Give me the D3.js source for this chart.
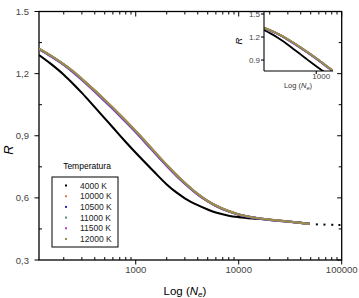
<!DOCTYPE html>
<html>
<head>
<meta charset="utf-8">
<title>R vs Log(Ne)</title>
<style>
  body { margin: 0; background: #fff; }
  text { font-family: Arial, "Liberation Sans", sans-serif; }
</style>
</head>
<body>
<script src="https://d3js.org/d3.v7.min.js"></script>
<script>
// electron density grid (shared by all series)
var ne = [115, 150, 200, 250, 300, 400, 500, 600, 700, 800, 1000, 1200, 1500, 2000, 2500,
          3000, 4000, 5000, 6000, 8000, 10000, 15000, 20000, 30000, 40000, 48800];

var r4000  = [1.290, 1.247, 1.195, 1.148, 1.107, 1.038, 0.984, 0.940, 0.902, 0.870, 0.818, 0.777, 0.727, 0.665, 0.625,
              0.598, 0.565, 0.544, 0.529, 0.514, 0.507, 0.499, 0.494, 0.486, 0.480, 0.475];
var r10000 = [1.320, 1.286, 1.245, 1.208, 1.174, 1.118, 1.072, 1.034, 1.001, 0.972, 0.922, 0.879, 0.826, 0.758, 0.709,
              0.672, 0.619, 0.585, 0.563, 0.536, 0.520, 0.503, 0.495, 0.486, 0.479, 0.474];
var r10500 = [1.319, 1.285, 1.244, 1.206, 1.172, 1.116, 1.070, 1.032, 0.999, 0.970, 0.920, 0.877, 0.824, 0.756, 0.707,
              0.670, 0.617, 0.584, 0.562, 0.535, 0.519, 0.502, 0.494, 0.486, 0.479, 0.474];
var r11000 = [1.319, 1.285, 1.244, 1.207, 1.173, 1.117, 1.071, 1.033, 1.000, 0.971, 0.921, 0.878, 0.825, 0.757, 0.708,
              0.671, 0.618, 0.584, 0.562, 0.535, 0.520, 0.503, 0.494, 0.486, 0.479, 0.474];
var r11500 = [1.318, 1.284, 1.242, 1.204, 1.170, 1.113, 1.067, 1.029, 0.996, 0.967, 0.917, 0.874, 0.821, 0.754, 0.705,
              0.668, 0.616, 0.583, 0.561, 0.534, 0.519, 0.502, 0.494, 0.485, 0.479, 0.474];
var r12000 = [1.320, 1.287, 1.245, 1.209, 1.175, 1.119, 1.074, 1.036, 1.003, 0.974, 0.923, 0.881, 0.827, 0.760, 0.710,
              0.673, 0.619, 0.585, 0.563, 0.536, 0.520, 0.503, 0.495, 0.486, 0.479, 0.474];

// sparse tail of the 4000 K run (drawn as dots)
var neTail = [57400, 68000, 81000, 95000];
var rTail  = [0.472, 0.471, 0.470, 0.469];

var labels = ["4000 K", "10000 K", "10500 K", "11000 K", "11500 K", "12000 K"];
var colors = ["#000000", "#d0804c", "#2a2ab0", "#5a8a80", "#b040c0", "#9c8e4c"];
var lineColors = ["#000000", "#d0804c", "#3a3ac0", "#5a8a80", "#7a40c8", "#9c8e4c"];
var series = [r4000, r10000, r10500, r11000, r11500, r12000];

var yTicks = [0.3, 0.6, 0.9, 1.2, 1.5];
var yTickLabels = ["0,3", "0,6", "0,9", "1,2", "1.5"];
var xTicks = [1000, 10000, 100000];
var insetYTicks = [0.9, 1.2, 1.5];

const W = 359, H = 298;
const mLeft = 39, mRight = 341.7, mTop = 11.5, mBottom = 260;

const svg = d3.select("body").append("svg")
    .attr("width", W).attr("height", H);

var x = d3.scaleLog().domain([115, 100000]).range([mLeft, mRight]);
var y = d3.scaleLinear().domain([0.3, 1.5]).range([mBottom, mTop]);

var minorX = [];
[100, 1000, 10000].forEach(function(d) {
    for (var k = 2; k <= 9; k++) { if (d * k > 115) minorX.push(d * k); }
});
var minorY = [0.45, 0.75, 1.05, 1.35];

// frame
svg.append("rect")
    .attr("x", mLeft).attr("y", mTop)
    .attr("width", mRight - mLeft).attr("height", mBottom - mTop)
    .attr("fill", "none").attr("stroke", "#000").attr("stroke-width", 1.3);

var ticks = svg.append("g").attr("stroke", "#000").attr("stroke-width", 1);
// left: major outward, minor inward; right and top: inward
yTicks.forEach(function(v) {
    ticks.append("line").attr("x1", mLeft - 4.5).attr("x2", mLeft).attr("y1", y(v)).attr("y2", y(v));
    ticks.append("line").attr("x1", mRight - 4.5).attr("x2", mRight).attr("y1", y(v)).attr("y2", y(v));
});
minorY.forEach(function(v) {
    ticks.append("line").attr("x1", mLeft).attr("x2", mLeft + 3).attr("y1", y(v)).attr("y2", y(v));
    ticks.append("line").attr("x1", mRight - 3).attr("x2", mRight).attr("y1", y(v)).attr("y2", y(v));
});
xTicks.forEach(function(v) {
    ticks.append("line").attr("x1", x(v)).attr("x2", x(v)).attr("y1", mBottom).attr("y2", mBottom + 4.5);
    ticks.append("line").attr("x1", x(v)).attr("x2", x(v)).attr("y1", mTop).attr("y2", mTop + 5);
});
minorX.forEach(function(v) {
    ticks.append("line").attr("x1", x(v)).attr("x2", x(v)).attr("y1", mBottom - 3).attr("y2", mBottom);
    ticks.append("line").attr("x1", x(v)).attr("x2", x(v)).attr("y1", mTop).attr("y2", mTop + 3);
});

// tick labels
svg.append("g").selectAll("text").data(yTicks).enter().append("text")
    .attr("x", 29).attr("y", function(d) { return y(d) + 3.5; })
    .attr("text-anchor", "end").attr("font-size", 9.5).attr("fill", "#444")
    .text(function(d, i) { return yTickLabels[i]; });

svg.append("g").selectAll("text").data(xTicks).enter().append("text")
    .attr("x", function(d) { return x(d); }).attr("y", 272.5)
    .attr("text-anchor", "middle").attr("font-size", 9.5).attr("fill", "#444")
    .text(function(d) { return d; });

// axis titles
svg.append("text").attr("transform", "translate(13,150) rotate(-90)")
    .attr("text-anchor", "middle").attr("font-size", 13).attr("font-style", "italic")
    .text("R");

var xt = svg.append("text").attr("x", 185).attr("y", 295)
    .attr("text-anchor", "middle").attr("font-size", 11.5);
xt.append("tspan").text("Log (");
xt.append("tspan").attr("font-style", "italic").text("N");
xt.append("tspan").attr("font-style", "italic").attr("font-size", 8).attr("dy", 2).text("e");
xt.append("tspan").attr("dy", -2).text(")");

// curves
var clip = svg.append("clipPath").attr("id", "main-clip");
clip.append("rect").attr("x", mLeft).attr("y", mTop).attr("width", mRight - mLeft).attr("height", mBottom - mTop);

var line = d3.line()
    .x(function(d) { return x(d[0]); })
    .y(function(d) { return y(d[1]); })
    .curve(d3.curveMonotoneX);

var plot = svg.append("g").attr("clip-path", "url(#main-clip)");
series.forEach(function(s, i) {
    plot.append("path")
        .datum(d3.zip(ne, s))
        .attr("fill", "none")
        .attr("stroke", lineColors[i])
        .attr("stroke-width", i === 0 ? 2.1 : 2.2)
        .attr("d", line);
});
plot.selectAll(".tail").data(d3.zip(neTail, rTail)).enter().append("rect")
    .attr("class", "tail")
    .attr("x", function(d) { return x(d[0]) - 1; })
    .attr("y", function(d) { return y(d[1]) - 1; })
    .attr("width", 2).attr("height", 2).attr("fill", "#000");

// legend
svg.append("text").attr("x", 87).attr("y", 169)
    .attr("text-anchor", "middle").attr("font-size", 8.5).text("Temperatura");
svg.append("rect").attr("x", 52).attr("y", 177).attr("width", 66).attr("height", 70)
    .attr("fill", "#fff").attr("stroke", "#000").attr("stroke-width", 1);
var leg = svg.append("g").selectAll("g").data(labels).enter().append("g")
    .attr("transform", function(d, i) { return "translate(0," + (185.5 + i * 10.7) + ")"; });
leg.append("rect").attr("x", 65).attr("y", -1).attr("width", 2).attr("height", 2)
    .attr("fill", function(d, i) { return colors[i]; });
leg.append("text").attr("x", 80).attr("y", 3).attr("font-size", 8.5).attr("fill", "#222")
    .text(function(d) { return d; });

// inset
const il = 264, ir = 333, it = 11.5, ib = 71;
var xi = d3.scaleLog().domain([115, 2000]).range([il, ir]);
var yi = d3.scaleLinear().domain([0.757, 1.5]).range([ib, it + 2.5]);

var iclip = svg.append("clipPath").attr("id", "inset-clip");
iclip.append("rect").attr("x", il).attr("y", it).attr("width", ir - il).attr("height", ib - it);

var iline = d3.line()
    .x(function(d) { return xi(d[0]); })
    .y(function(d) { return yi(d[1]); })
    .curve(d3.curveMonotoneX);

var inset = svg.append("g").attr("clip-path", "url(#inset-clip)");
series.forEach(function(s, i) {
    inset.append("path")
        .datum(d3.zip(ne, s))
        .attr("fill", "none")
        .attr("stroke", lineColors[i])
        .attr("stroke-width", i === 0 ? 1.8 : 2)
        .attr("d", iline);
});

var ia = svg.append("g").attr("stroke", "#000").attr("stroke-width", 1.1);
ia.append("line").attr("x1", il).attr("x2", il).attr("y1", it).attr("y2", ib);
ia.append("line").attr("x1", il).attr("x2", ir).attr("y1", ib).attr("y2", ib);
insetYTicks.forEach(function(v) {
    ia.append("line").attr("x1", il - 3).attr("x2", il).attr("y1", yi(v)).attr("y2", yi(v));
});
ia.append("line").attr("x1", xi(1000)).attr("x2", xi(1000)).attr("y1", ib).attr("y2", ib + 3);

svg.append("g").selectAll("text").data(insetYTicks).enter().append("text")
    .attr("x", 260).attr("y", function(d) { return yi(d) + 3; })
    .attr("text-anchor", "end").attr("font-size", 8).attr("fill", "#444")
    .text(function(d) { return d.toFixed(1); });
svg.append("text").attr("x", xi(1000) + 5).attr("y", 79)
    .attr("text-anchor", "middle").attr("font-size", 8).attr("fill", "#444").text("1000");

svg.append("text").attr("transform", "translate(242,41) rotate(-90)")
    .attr("text-anchor", "middle").attr("font-size", 9.5).attr("font-style", "italic").text("R");
var ixt = svg.append("text").attr("x", 298).attr("y", 88)
    .attr("text-anchor", "middle").attr("font-size", 7.5).attr("fill", "#333");
ixt.append("tspan").text("Log (");
ixt.append("tspan").attr("font-style", "italic").text("N");
ixt.append("tspan").attr("font-style", "italic").attr("font-size", 5.5).attr("dy", 1.5).text("e");
ixt.append("tspan").attr("dy", -1.5).text(")");
</script>
</body>
</html>
